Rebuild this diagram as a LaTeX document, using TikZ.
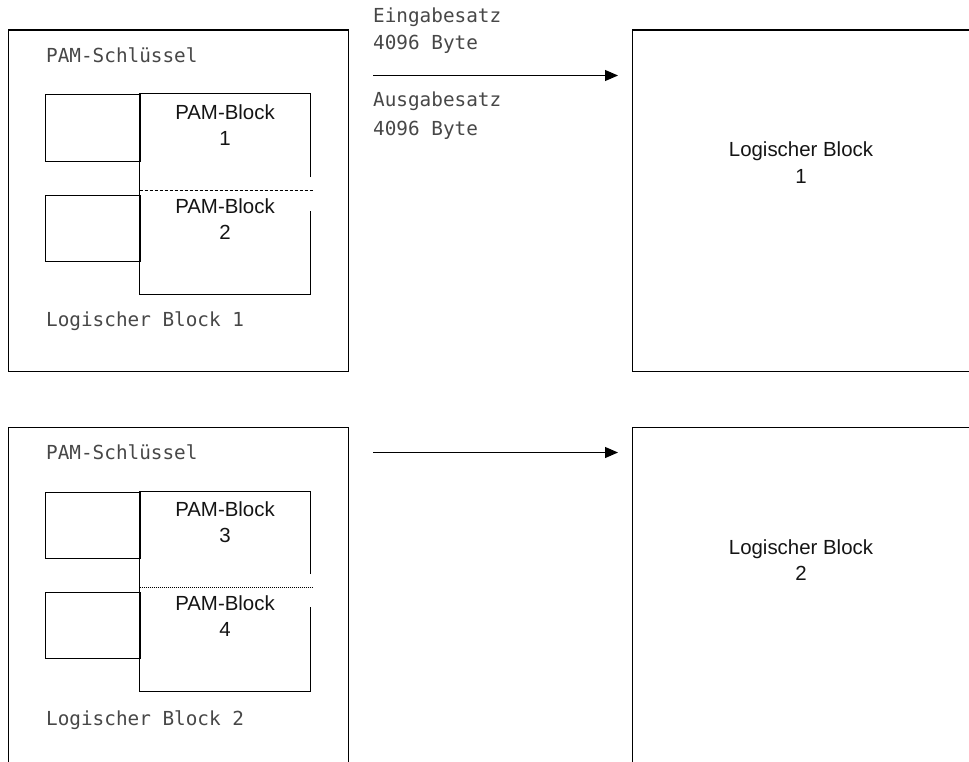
\documentclass[tikz,border=0pt]{standalone}
\usepackage{fontspec}
\newfontfamily\labelsans{Liberation Sans}
\newfontfamily\labelmono{DejaVu Sans Mono}
\usetikzlibrary{arrows.meta}
\definecolor{monogray}{gray}{0.28}
\definecolor{sansink}{gray}{0.08}
\tikzset{
  frame/.style={draw, line width=1.1bp, inner sep=0pt},
  edge/.style={line width=1.1bp},
  cut/.style={line width=0.9bp, dash pattern=on 3bp off 2bp},
  cutfine/.style={line width=1.1bp, dash pattern=on 1bp off 1bp},
  mono/.style={font=\labelmono\fontsize{19.4}{27}\selectfont, text=monogray, inner sep=0pt, anchor=base west},
  blocktext/.style={font=\labelsans\fontsize{20.5}{26.7}\selectfont, text=sansink, align=center, inner sep=0pt},
  flow/.style={line width=1.1bp, -{Triangle[length=13bp,width=11bp]}}
}
\begin{document}
\begin{tikzpicture}[x=1bp,y=-1bp]
\useasboundingbox (0,0) rectangle (969,762);
\clip (0,0) rectangle (969,762);

% ---------- first logical block ----------
\node[frame, anchor=north west, minimum width=340bp, minimum height=341bp] (outerA) at (7.5,29.5) {};
\node[mono] (keyA) at (46,62.7) {PAM-Schlüssel};
\node[frame, anchor=north west, minimum width=95bp, minimum height=67bp] (keyA1) at (44.5,93.5) {};
\node[frame, anchor=north west, minimum width=95bp, minimum height=66bp] (keyA2) at (44.5,194.5) {};
\draw[edge] (310.5,177) -- (310.5,93.5) -- (139.5,93.5) -- (139.5,294.5) -- (310.5,294.5) -- (310.5,211);
\draw[cut] (139.5,190.5) -- (313,190.5);
\node[blocktext] (pam1) at (225,125) {PAM-Block\\1};
\node[blocktext] (pam2) at (225,219.2) {PAM-Block\\2};
\node[mono] (logA) at (46,326.7) {Logischer Block 1};

\node[frame, anchor=north west, minimum width=400bp, minimum height=341bp] (targetA) at (631.5,29.5) {};
\node[blocktext] (targetAtext) at (801,162.5) {Logischer Block\\1};

\coordinate (arrAs) at (373,75.5);
\coordinate (arrAe) at (618,75.5);
\draw[flow] (arrAs) -- (arrAe);
\node[mono] (inA1) at (373,22.7) {Eingabesatz};
\node[mono] (inA2) at (373,50) {4096 Byte};
\node[mono] (outA1) at (373,106.7) {Ausgabesatz};
\node[mono] (outA2) at (373,135) {4096 Byte};

% ---------- second logical block ----------
\node[frame, anchor=north west, minimum width=340bp, minimum height=360bp] (outerB) at (7.5,426.5) {};
\node[mono] (keyB) at (46,459.3) {PAM-Schlüssel};
\node[frame, anchor=north west, minimum width=95bp, minimum height=66bp] (keyB1) at (44.5,491.5) {};
\node[frame, anchor=north west, minimum width=95bp, minimum height=66bp] (keyB2) at (44.5,591.5) {};
\draw[edge] (310.5,574) -- (310.5,491.5) -- (139.5,491.5) -- (139.5,691.5) -- (310.5,691.5) -- (310.5,607);
\draw[cutfine] (139.5,587.5) -- (313,587.5);
\node[blocktext] (pam3) at (225,522) {PAM-Block\\3};
\node[blocktext] (pam4) at (225,615.9) {PAM-Block\\4};
\node[mono] (logB) at (46,725) {Logischer Block 2};

\node[frame, anchor=north west, minimum width=400bp, minimum height=360bp] (targetB) at (631.5,426.5) {};
\node[blocktext] (targetBtext) at (801,559.9) {Logischer Block\\2};

\coordinate (arrBs) at (373,452.5);
\coordinate (arrBe) at (618,452.5);
\draw[flow] (arrBs) -- (arrBe);
\end{tikzpicture}
\end{document}
